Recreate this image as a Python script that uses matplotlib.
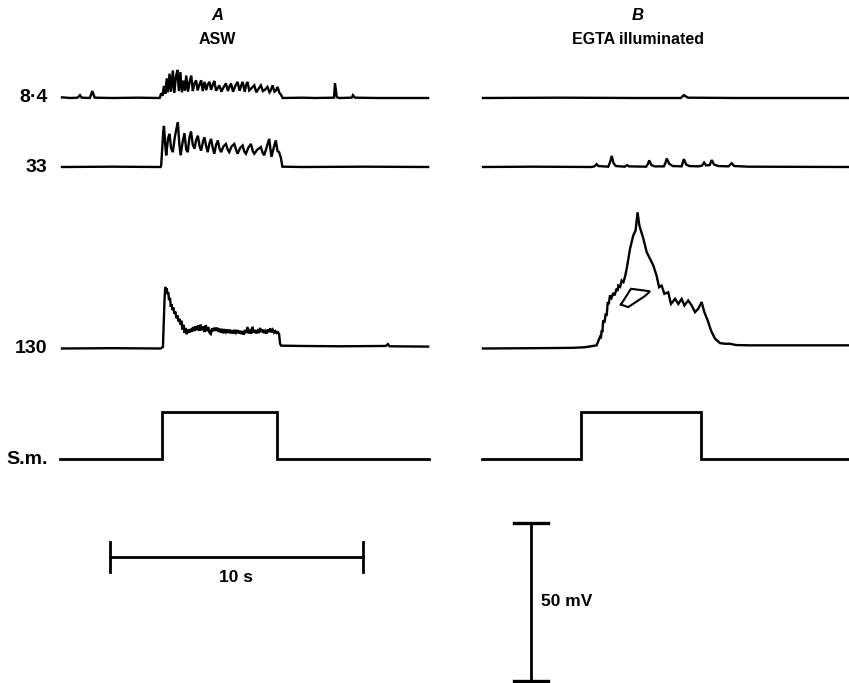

# Intracellular records: A in ASW, B in EGTA (illuminated)
import numpy as np
from matplotlib import pyplot as plt

# --- DATA ---
# time in s from start of each sweep, amplitude in mV above the trace baseline

a84_t = [0, 0.35, 0.62, 0.71, 0.78, 1.1, 1.2, 1.29, 2.0, 3.0, 3.86,
         3.92, 3.97, 4.03, 4.08, 4.14, 4.19, 4.25, 4.31, 4.38, 4.44, 4.50, 4.56,
         4.62, 4.68, 4.74, 4.80, 4.86, 4.91, 4.98, 5.04, 5.11, 5.17, 5.23, 5.30,
         5.36, 5.43, 5.50, 5.56, 5.63, 5.70, 5.76, 5.83, 5.89, 5.96, 6.02, 6.09,
         6.16, 6.22, 6.30, 6.38, 6.48, 6.56, 6.62, 6.68, 6.76, 6.85, 6.94, 7.02,
         7.08, 7.14, 7.22, 7.28, 7.33, 7.40, 7.48, 7.60, 7.68, 7.76, 7.86, 7.94,
         8.02, 8.12, 8.20, 8.26, 8.32, 8.40, 8.46, 8.52, 8.60, 8.66, 8.72,
         9.5, 10.0, 10.75, 10.79, 10.86, 10.95, 11.45, 11.5, 11.58, 12.5, 14.47]
a84_v = [0.2, 0.0, 0.1, 0.9, 0.1, 0.0, 2.2, 0.1, 0.0, 0.1, 0.0,
         1.5, 0.7, 3.8, 1.3, 6.2, 1.8, 7.7, 2.0, 8.7, 1.6, 6.5, 8.9,
         2.2, 8.2, 1.8, 5.5, 2.4, 7.1, 2.0, 5.0, 7.1, 2.2, 4.5, 5.6,
         2.4, 4.2, 5.6, 2.2, 5.1, 2.5, 4.3, 5.1, 2.6, 4.2, 5.4, 2.3,
         3.2, 4.0, 2.0, 3.3, 4.6, 2.2, 3.6, 4.6, 2.0, 3.8, 5.1, 2.3,
         3.9, 5.1, 2.0, 4.2, 5.1, 2.4, 3.0, 4.0, 1.8, 2.8, 4.0, 2.2,
         2.6, 3.5, 1.8, 2.5, 4.0, 2.0, 2.4, 3.5, 1.5, 1.0, 0.0,
         0.1, 0.0, 0.1, 4.7, 0.3, 0.0, 0.1, 0.9, 0.1, 0.0, 0.0]

a33_t = [0, 2.0, 3.9, 3.92, 4.00, 4.03, 4.08, 4.12, 4.19, 4.25, 4.31, 4.38,
         4.46, 4.52, 4.58, 4.64, 4.69, 4.77, 4.84, 4.91, 4.97, 5.04, 5.10, 5.17,
         5.24, 5.30, 5.37, 5.44, 5.50, 5.57, 5.63, 5.70, 5.76, 5.83, 5.89, 5.96,
         6.02, 6.09, 6.16, 6.22, 6.29, 6.38, 6.48, 6.55, 6.61, 6.70, 6.81, 6.88,
         6.94, 7.04, 7.14, 7.20, 7.27, 7.37, 7.47, 7.54, 7.60, 7.72, 7.86, 7.93,
         7.99, 8.10, 8.19, 8.24, 8.28, 8.38, 8.45, 8.52, 8.58, 8.65, 8.71,
         9.5, 12.0, 14.47]
a33_v = [0.0, 0.1, 0.0, 0.5, 11.0, 13.0, 7.0, 3.7, 9.0, 10.5, 6.0, 4.7,
         9.5, 12.0, 14.1, 7.0, 3.7, 8.0, 10.7, 5.5, 4.7, 9.5, 11.2, 7.0,
         5.8, 8.5, 9.9, 6.5, 5.2, 8.0, 9.4, 6.5, 4.7, 7.5, 8.9, 6.0,
         4.2, 7.0, 8.4, 6.0, 4.7, 6.5, 7.3, 5.5, 4.7, 6.5, 7.3, 5.5,
         4.2, 6.0, 6.8, 5.0, 4.2, 6.2, 7.3, 5.0, 4.2, 5.5, 6.3, 4.5,
         3.7, 6.5, 8.9, 5.5, 3.2, 6.5, 8.4, 5.0, 4.7, 3.0, 0.1,
         0.0, 0.1, 0.0]

a130_t = [0, 2.0, 3.9, 3.99, 4.05, 4.08, 4.11, 4.14, 4.17, 4.20, 4.23, 4.27,
          4.30, 4.33, 4.36, 4.40, 4.44, 4.48, 4.52, 4.56, 4.60, 4.64, 4.68, 4.72,
          4.76, 4.80, 4.84, 4.88, 4.93, 4.98, 5.03, 5.08, 5.13, 5.18, 5.23, 5.28,
          5.33, 5.38, 5.43, 5.48, 5.53, 5.58, 5.63, 5.68, 5.73, 5.78, 5.83, 5.88,
          5.93, 5.98, 6.03, 6.08, 6.13, 6.18, 6.23, 6.28, 6.33, 6.38, 6.43, 6.48,
          6.53, 6.58, 6.63, 6.68, 6.73, 6.78, 6.83, 6.88, 6.93, 6.98, 7.03, 7.08,
          7.13, 7.18, 7.23, 7.28, 7.33, 7.38, 7.43, 7.48, 7.53, 7.58, 7.63, 7.68,
          7.73, 7.78, 7.83, 7.88, 7.93, 7.98, 8.03, 8.08, 8.13, 8.18, 8.23, 8.28,
          8.33, 8.38, 8.43, 8.48, 8.53, 8.58, 8.62, 8.66, 9.5, 11.0, 12.8, 12.88,
          12.95, 14.47]
a130_v = [0.0, 0.1, 0.0, 0.5, 15.0, 19.5, 18.0, 19.0, 17.2, 17.8, 15.3, 16.0,
          13.2, 14.0, 12.2, 13.0, 11.0, 11.7, 9.6, 10.5, 8.6, 9.4, 7.6, 8.8,
          6.0, 7.5, 5.0, 6.5, 4.5, 6.0, 5.0, 6.2, 5.3, 6.8, 5.5, 7.0,
          5.8, 7.3, 5.6, 7.6, 5.8, 7.0, 5.2, 7.4, 5.5, 6.8, 5.0, 4.6,
          6.4, 5.5, 6.6, 5.6, 6.6, 5.3, 6.3, 5.0, 6.2, 4.8, 6.1, 5.2,
          6.0, 4.9, 6.0, 4.8, 5.8, 4.7, 5.9, 5.0, 5.8, 4.8, 5.6, 4.6,
          5.5, 4.4, 5.8, 4.9, 6.8, 4.8, 5.6, 4.7, 6.9, 5.0, 5.8, 4.8,
          5.6, 4.9, 6.5, 5.2, 6.0, 4.9, 5.6, 4.7, 6.0, 5.2, 6.4, 5.1,
          5.9, 5.0, 5.5, 4.9, 5.2, 4.6, 1.5, 0.9, 0.8, 0.7, 0.8, 1.4,
          0.7, 0.6]

b84_t = [0, 3.0, 6.0, 7.82, 7.94, 8.1, 10.0, 14.47]
b84_v = [0.0, 0.1, 0.0, 0.0, 0.9, 0.1, 0.0, 0.0]

b33_t = [0, 2.0, 4.3, 4.40, 4.49, 4.56, 4.95, 5.02, 5.09, 5.16, 5.25, 5.6,
         5.70, 5.77, 6.45, 6.52, 6.57, 6.66, 6.78, 7.15, 7.22, 7.26, 7.36, 7.50,
         7.85, 7.90, 7.94, 8.03, 8.15, 8.5, 8.65, 8.74, 8.82, 8.96, 9.04, 9.13,
         9.30, 9.70, 9.83, 9.93, 10.5, 14.47]
b33_v = [0.0, 0.1, 0.0, 0.2, 0.9, 0.3, 0.1, 1.5, 3.5, 1.2, 0.3, 0.1,
         0.6, 0.2, 0.1, 1.0, 2.1, 0.6, 0.2, 0.2, 1.5, 2.7, 1.0, 0.3,
         0.2, 1.5, 2.5, 0.8, 0.3, 0.2, 0.4, 1.4, 0.5, 0.6, 2.2, 0.8,
         0.3, 0.2, 1.2, 0.3, 0.1, 0.0]

b130_t = [0, 2.0, 3.5, 4.03, 4.49, 4.62, 4.66, 4.69, 4.72, 4.75, 4.80, 4.85,
          4.89, 4.93, 4.97, 5.02, 5.08, 5.15, 5.20, 5.28, 5.32, 5.35, 5.42,
          5.48, 5.55, 5.61, 5.68, 5.81, 5.94, 6.03, 6.11, 6.18, 6.34, 6.47,
          6.60, 6.73, 6.86, 6.96, 7.06, 7.17, 7.32, 7.43, 7.59, 7.72, 7.85, 7.96,
          8.11, 8.25, 8.38, 8.51, 8.64, 8.75, 8.88, 9.01, 9.17, 9.37, 9.57, 9.76,
          10.0, 10.5, 12.0, 14.47]
b130_v = [0.0, 0.1, 0.2, 0.4, 1.0, 3.6, 3.2, 5.7, 5.2, 8.9, 8.2, 11.0,
          10.4, 14.7, 14.0, 16.8, 16.0, 17.6, 16.8, 18.9, 18.2, 19.9, 19.5,
          21.5, 21.0, 22.6, 25.2, 31.5, 35.8, 37.3, 43.1, 38.9, 34.7, 30.5,
          28.4, 26.3, 23.1, 19.4, 19.9, 17.3, 17.8, 14.1, 15.7, 14.1, 15.7, 13.6,
          15.2, 13.6, 11.5, 12.6, 14.7, 11.5, 8.9, 5.7, 3.1, 1.7, 1.5, 1.5,
          1.1, 1.0, 1.0, 1.0]

# open arrow marker on the B 130 record
arrow_t = [5.45, 5.85, 6.60, 6.40, 5.74, 5.45]
arrow_v = [13.9, 18.9, 18.1, 16.6, 13.1, 13.9]

# stimulus monitor (S.m.)
sm_a_t = [-0.08, 3.94, 3.94, 8.50, 8.50, 14.5]
sm_b_t = [-0.04, 3.87, 3.87, 8.62, 8.62, 14.47]
sm_v = [0, 0, 15, 15, 0, 0]

row_labels = ['8·4', '33', '130', 'S.m.']

# --- LAYOUT ---
px_s = 25.3      # pixels per second
px_mv = 3.16     # pixels per mV
W, H = 849, 683
x0 = 62          # pixel of t=0, panel A
b_off = (483 - 62) / px_s   # panel B sweep offset in s
base = {'8·4': (H - 98) / px_mv, '33': (H - 167) / px_mv,
        '130': (H - 348.5) / px_mv, 'S.m.': (H - 459) / px_mv}

fig = plt.figure(figsize=(W / 100, H / 100), dpi=100)
fig.patch.set_facecolor('w')
ax = fig.add_axes([0, 0, 1, 1])
ax.set_xlim(-x0 / px_s, (W - x0) / px_s)
ax.set_ylim(0, H / px_mv)
ax.axis('off')

kw = dict(color='k', lw=1.7, solid_joinstyle='miter')

def trace(t, v, row, off=0.0, **extra):
    ax.plot(np.array(t) + off, np.array(v) + base[row], **{**kw, **extra})

trace(a84_t, a84_v, '8·4')
trace(a33_t, a33_v, '33')
trace(a130_t, a130_v, '130')
trace(sm_a_t, sm_v, 'S.m.', lw=2.0)

trace(b84_t, b84_v, '8·4', b_off)
trace(b33_t, b33_v, '33', b_off)
trace(b130_t, b130_v, '130', b_off)
trace(sm_b_t, sm_v, 'S.m.', b_off, lw=2.0)
trace(arrow_t, arrow_v, '130', b_off, lw=1.5)

fnt = dict(family='Liberation Sans', color='k', weight='bold')
for lab in row_labels:
    ax.text(-0.57, base[lab], lab, ha='right', va='center', fontsize=14, **fnt)

mid = (217 - x0) / px_s
ytop = (H - 15) / px_mv
ysub = (H - 40) / px_mv
ax.text(mid, ytop, 'A', ha='center', va='center', fontsize=12, style='italic', **fnt)
ax.text(mid, ysub, 'ASW', ha='center', va='center', fontsize=11.5, **fnt)
ax.text(mid + b_off, ytop, 'B', ha='center', va='center', fontsize=12, style='italic', **fnt)
ax.text(mid + b_off, ysub, 'EGTA illuminated', ha='center', va='center', fontsize=11.5, **fnt)

# scale bars: 10 s and 50 mV
sb_t0 = (110 - x0) / px_s
sb_y = (H - 557) / px_mv
ax.plot([sb_t0, sb_t0 + 10], [sb_y, sb_y], color='k', lw=2)
for xx in (sb_t0, sb_t0 + 10):
    ax.plot([xx, xx], [sb_y - 4.9, sb_y + 4.9], color='k', lw=2)
ax.text(sb_t0 + 5, sb_y - 6.5, '10 s', ha='center', va='center', fontsize=12.5, **fnt)

vb_t = (531 - x0) / px_s
vb_y0 = (H - 681) / px_mv
ax.plot([vb_t, vb_t], [vb_y0, vb_y0 + 50], color='k', lw=2)
for yy in (vb_y0, vb_y0 + 50):
    ax.plot([vb_t - 0.67, vb_t + 0.67], [yy, yy], color='k', lw=2.4)
ax.text(vb_t + 0.4, vb_y0 + 25, '50 mV', ha='left', va='center', fontsize=12.5, **fnt)

fig.savefig('out.png', dpi=100)
